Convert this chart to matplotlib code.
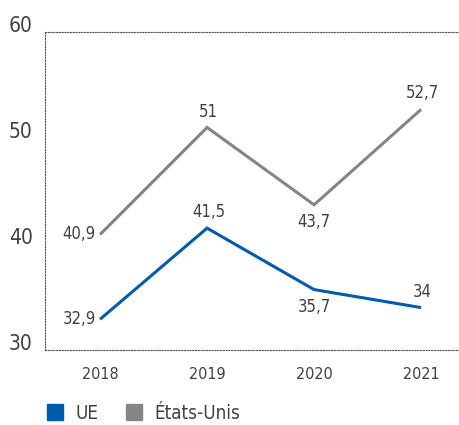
import matplotlib.pyplot as plt
import matplotlib.transforms as mtransforms
from matplotlib.lines import Line2D

years = [2018, 2019, 2020, 2021]
ue = [32.9, 41.5, 35.7, 34]
us = [40.9, 51, 43.7, 52.7]

ue_labels = ["32,9", "41,5", "35,7", "34"]
us_labels = ["40,9", "51", "43,7", "52,7"]

# label placement per point: left, above, below, above
place = ["left", "above", "below", "above"]

plt.rcParams["font.family"] = ["DejaVu Sans"]
plt.rcParams["font.stretch"] = "condensed"
text_color = "#404040"
blue = "#005BAC"
gray = "#858585"

fig = plt.figure(figsize=(4.6, 4.25), dpi=100)
ax = fig.add_axes([0.098, 0.1765, 0.902, 0.748])

ax.plot(years, us, color=gray, lw=2.2, solid_capstyle="butt", solid_joinstyle="miter")
ax.plot(years, ue, color=blue, lw=2.2, solid_capstyle="butt", solid_joinstyle="miter")


def annotate(xs, ys, labels):
    for x, y, lab, p in zip(xs, ys, labels, place):
        if p == "left":
            ax.annotate(lab, (x, y), xytext=(-3, 0), textcoords="offset points",
                        ha="right", va="center", fontsize=12, color=text_color)
        elif p == "above":
            ax.annotate(lab, (x, y), xytext=(1, 5), textcoords="offset points",
                        ha="center", va="bottom", fontsize=12, color=text_color)
        else:
            ax.annotate(lab, (x, y), xytext=(0, -6), textcoords="offset points",
                        ha="center", va="top", fontsize=12, color=text_color)


annotate(years, us, us_labels)
annotate(years, ue, ue_labels)

ax.set_xlim(2018 - 0.514, 2021 + 0.364)
ax.set_ylim(30, 60)
ax.set_yticks([30, 40, 50, 60])
ax.set_xticks(years)
ax.tick_params(axis="y", length=0, pad=9, labelsize=15, labelcolor=text_color)
ax.tick_params(axis="x", length=0, pad=12, labelsize=11.5, labelcolor=text_color)

# y labels sit a little above their value
shift = mtransforms.ScaledTranslation(0, 6 / 72, fig.dpi_scale_trans)
for lab in ax.get_yticklabels():
    lab.set_transform(lab.get_transform() + shift)

for side in ["top", "left", "bottom"]:
    ax.spines[side].set_linestyle((0, (1, 1.5)))
    ax.spines[side].set_linewidth(0.8)
    ax.spines[side].set_color("#555555")
ax.spines["right"].set_visible(False)

handles = [
    Line2D([], [], marker="s", linestyle="none", markersize=11, color=blue, label="UE"),
    Line2D([], [], marker="s", linestyle="none", markersize=11, color=gray, label="États-Unis"),
]
fig.legend(handles=handles, loc="lower left", bbox_to_anchor=(0.063, -0.035), ncol=2,
           frameon=False, fontsize=13.5, labelcolor=text_color, handletextpad=0.6,
           columnspacing=1.35, handlelength=1.0)

fig.savefig("out.png", dpi=100)
